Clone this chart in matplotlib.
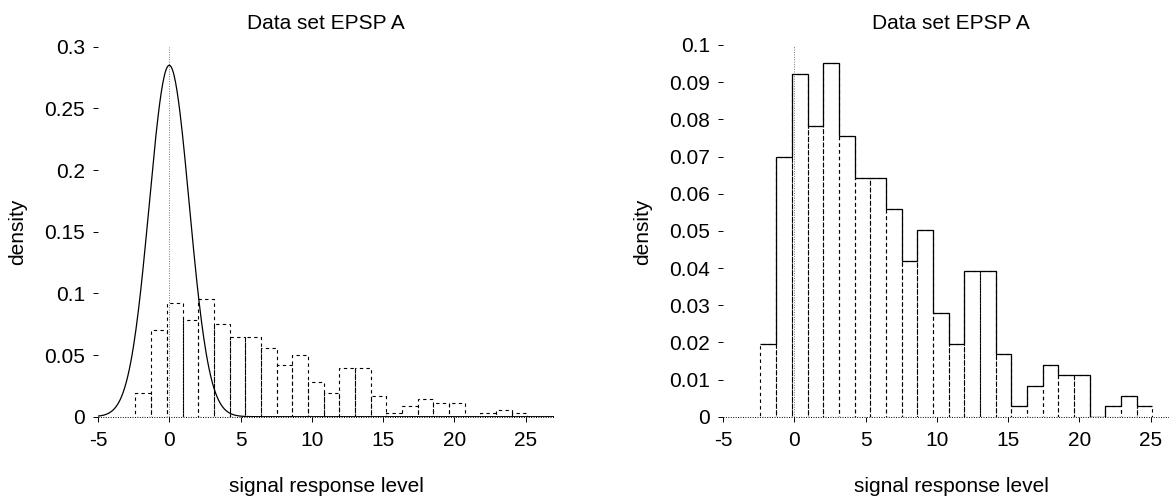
import numpy as np
import matplotlib
matplotlib.use("Agg")
import matplotlib.pyplot as plt

plt.rcParams['font.family'] = ['Liberation Sans', 'DejaVu Sans']
plt.rcParams['axes.unicode_minus'] = False

# ==================== data ====================
# histogram of the EPSP A responses (counts per bin)
bin_start = -2.37
bin_width = 1.1
counts = [7, 25, 33, 28, 34, 27, 23, 23, 20, 15, 18, 10, 7,
          14, 14, 6, 1, 3, 5, 4, 4, 0, 1, 2, 1]

# noise density shown in the left panel (normal, centred at 0)
noise_mu = 0.0
noise_sd = 1.4

x_ticks = [-5, 0, 5, 10, 15, 20, 25]
x_tick_labels = ['-5', '0', '5', '10', '15', '20', '25']
y_ticks_left = [0, 0.05, 0.1, 0.15, 0.2, 0.25, 0.3]
y_labels_left = ['0', '0.05', '0.1', '0.15', '0.2', '0.25', '0.3']
y_ticks_right = [0, 0.01, 0.02, 0.03, 0.04, 0.05, 0.06, 0.07, 0.08, 0.09, 0.1]
y_labels_right = ['0', '0.01', '0.02', '0.03', '0.04', '0.05', '0.06',
                  '0.07', '0.08', '0.09', '0.1']

title = 'Data set EPSP A'
xlab = 'signal response level'
ylab = 'density'

counts = np.array(counts, dtype=float)
edges = bin_start + bin_width * np.arange(len(counts) + 1)
dens = counts / counts.sum() / bin_width

W, H = 1169, 496
fig = plt.figure(figsize=(W / 100, H / 100), dpi=100)

FS = 15
DASH = (0, (3, 3))


def px_axes(left, top, right, bottom):
    return fig.add_axes([left / W, 1 - bottom / H, (right - left) / W, (bottom - top) / H])


def style_axes(ax, yticks, ylabels, ylim):
    ax.set_xlim(-5, 27)
    ax.set_ylim(*ylim)
    for s in ax.spines.values():
        s.set_visible(False)
    ax.set_xticks(x_ticks)
    ax.set_xticklabels(x_tick_labels, fontsize=FS)
    ax.set_yticks(yticks)
    ax.set_yticklabels(ylabels, fontsize=FS)
    ax.tick_params(axis='x', direction='out', length=3.6, width=0.7, pad=7)
    ax.tick_params(axis='y', direction='out', length=3.4, width=0.7, pad=6)
    ax.axvline(0, color='#777777', lw=0.7, linestyle=(0, (1, 1.5)), zorder=1)
    ax.axhline(0, color='black', lw=0.7, linestyle=(0, (1, 1.5)), zorder=1, clip_on=False)
    ax.patch.set_visible(False)


def labels(ax, ylab_x):
    pos = ax.get_position()
    cx = pos.x0 + pos.width / 2
    fig.text(cx, 1 - 29.3 / H, title, ha='center', va='baseline', fontsize=FS)
    fig.text(cx, 1 - 491.7 / H, xlab, ha='center', va='baseline', fontsize=FS)
    fig.text(ylab_x / W, 1 - 231.5 / H, ylab, rotation=90, rotation_mode='anchor',
             ha='center', va='baseline', fontsize=FS)


# ---------- left panel: histogram + noise density ----------
ax1 = px_axes(98, 46.7, 554, 416.7)
style_axes(ax1, y_ticks_left, y_labels_left, (0, 0.3))
ax1.bar(edges[:-1], dens, width=bin_width, align='edge', fill=False,
        edgecolor='black', linewidth=0.8, linestyle=DASH, zorder=2)
xs = np.linspace(-5, 27, 600)
pdf = np.exp(-0.5 * ((xs - noise_mu) / noise_sd) ** 2) / (noise_sd * np.sqrt(2 * np.pi))
ax1.plot(xs, pdf, color='black', lw=0.9, zorder=3)
labels(ax1, 23)

# ---------- right panel: histogram only ----------
ax2 = px_axes(723, 45, 1179, 416.7)
style_axes(ax2, y_ticks_right, y_labels_right, (0, 0.1))
ax2.bar(edges[:-1], dens, width=bin_width, align='edge', fill=False,
        edgecolor='black', linewidth=0.8, linestyle=DASH, zorder=2)
ax2.stairs(dens, edges, baseline=None, color='black', lw=0.9, zorder=3)
labels(ax2, 648)

fig.savefig('out.png', dpi=100)
